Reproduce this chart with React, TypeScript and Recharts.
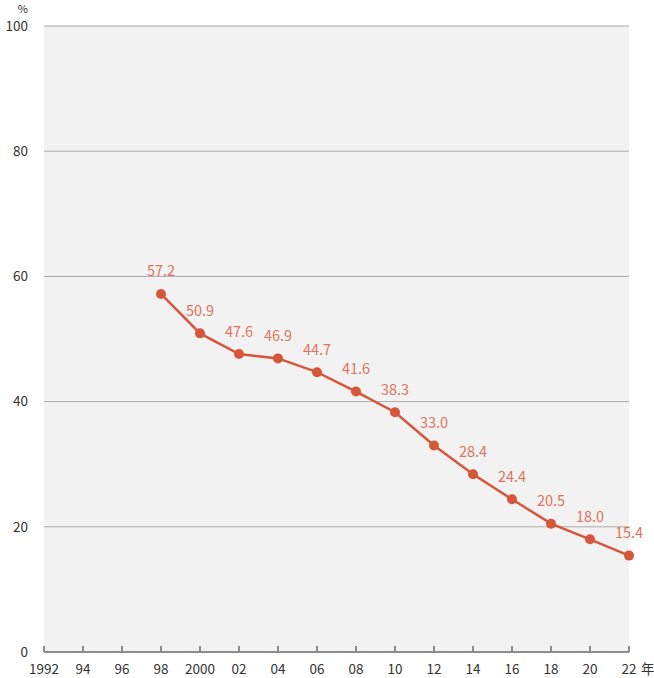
import React from 'react'
import { LineChart, Line, XAxis, YAxis, CartesianGrid, LabelList } from 'recharts'

const years = [1998, 2000, 2002, 2004, 2006, 2008, 2010, 2012, 2014, 2016, 2018, 2020, 2022]
const rates = [57.2, 50.9, 47.6, 46.9, 44.7, 41.6, 38.3, 33.0, 28.4, 24.4, 20.5, 18.0, 15.4]
const xTicks = [1992, 1994, 1996, 1998, 2000, 2002, 2004, 2006, 2008, 2010, 2012, 2014, 2016, 2018, 2020, 2022]
const yTicks = [0, 20, 40, 60, 80, 100]

const data = years.map((year, i) => ({ year, rate: rates[i] }))

const FONT = '"Noto Sans CJK JP", "Noto Sans", sans-serif'
const LINE = '#d6563a'
const LABEL = '#e0725a'
const AXIS = '#8c8c8c'

const yearLabel = (y: number) => (y === 1992 || y === 2000 ? String(y) : String(y).slice(2))

const XTick = ({ x, y, payload }: any) => {
  const axisY = y
  const v = payload.value as number
  return (
    <g>
      <line x1={x} x2={x} y1={axisY - 6} y2={axisY} stroke={AXIS} strokeWidth={2} />
      <text x={x} y={axisY + 22} textAnchor="middle" fill="#333" fontSize={13.5} fontFamily={FONT}>
        {yearLabel(v)}
      </text>
      {v === 2022 && (
        <text x={x + 12} y={axisY + 22} textAnchor="start" fill="#333" fontSize={13.5} fontFamily={FONT}>
          年
        </text>
      )}
    </g>
  )
}

const ValueLabel = ({ x, y, value }: any) => (
  <text x={x} y={y - 24} textAnchor="middle" dominantBaseline="central" fill={LABEL} fontSize={14.5} fontFamily={FONT}>
    {Number(value).toFixed(1)}
  </text>
)

export default function App() {
  return (
    <div style={{ position: 'absolute', left: 0, top: 0, width: 654, height: 678, background: '#fff' }}>
      <div
        style={{
          position: 'absolute', left: 0, top: 2, width: 28, textAlign: 'right',
          fontFamily: FONT, fontSize: 11, color: '#333', lineHeight: '12px',
        }}
      >
        %
      </div>
      <LineChart width={654} height={678} data={data} margin={{ top: 26, right: 25, bottom: 0, left: 0 }}>
        <CartesianGrid vertical={false} stroke="#aaaaaa" fill="#f2f2f2" horizontalValues={[20, 40, 60, 80, 100]} />
        <XAxis
          dataKey="year"
          type="number"
          domain={[1992, 2022]}
          ticks={xTicks}
          interval={0}
          height={26}
          tickSize={0}
          tickMargin={0}
          tickLine={false}
          axisLine={{ stroke: AXIS, strokeWidth: 2 }}
          tick={<XTick />}
        />
        <YAxis
          type="number"
          domain={[0, 100]}
          ticks={yTicks}
          width={44}
          axisLine={false}
          tickLine={false}
          tickSize={0}
          tickMargin={16}
          tick={{ fill: '#333', fontSize: 13.5, fontFamily: FONT }}
        />
        <Line
          dataKey="rate"
          stroke={LINE}
          strokeWidth={2.5}
          dot={{ r: 5, fill: LINE, stroke: LINE, strokeWidth: 0 }}
          isAnimationActive={false}
        >
          <LabelList dataKey="rate" content={<ValueLabel />} />
        </Line>
      </LineChart>
    </div>
  )
}
